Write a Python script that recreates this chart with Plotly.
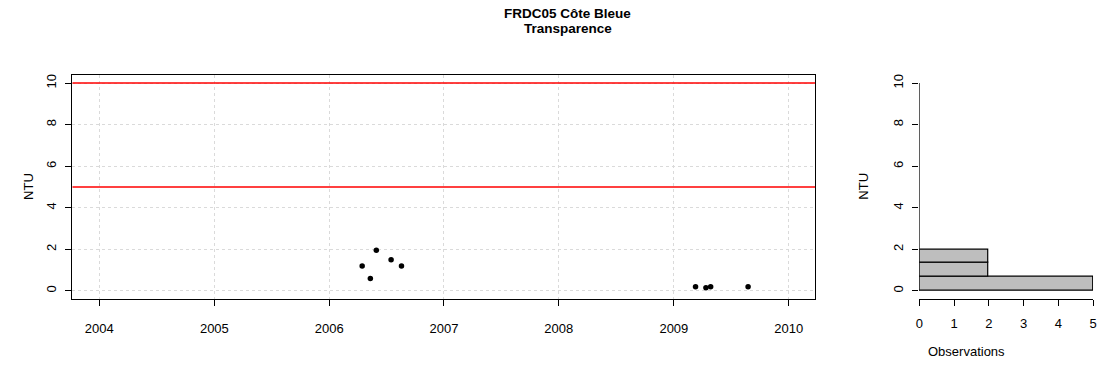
import numpy as np
import plotly.graph_objects as go

# measurement dates and turbidity values (NTU)
dates = ["2006-04-16", "2006-05-12", "2006-05-31", "2006-07-17", "2006-08-19",
         "2009-03-11", "2009-04-13", "2009-04-28", "2009-08-25"]
ntu = [1.2, 0.6, 1.95, 1.5, 1.2, 0.2, 0.15, 0.2, 0.2]

thresholds = [10, 5]
year_ticks = ["2004-01-01", "2005-01-01", "2006-01-01", "2007-01-01",
              "2008-01-01", "2009-01-01", "2010-01-01"]
year_labels = ["2004", "2005", "2006", "2007", "2008", "2009", "2010"]

bin_edges = [0, 2 / 3, 4 / 3, 2]
counts, _ = np.histogram(ntu, bins=bin_edges)
centers = [(bin_edges[i] + bin_edges[i + 1]) / 2 for i in range(len(counts))]
widths = [bin_edges[i + 1] - bin_edges[i] for i in range(len(counts))]

W, H = 1102, 369
FONT = "Liberation Sans, Arial, sans-serif"


def px_x(p):
    return p / W


def px_y(p):
    return 1 - p / H


fig = go.Figure()

fig.add_trace(go.Scatter(
    x=dates, y=ntu, mode="markers",
    marker=dict(color="black", size=5.5),
    xaxis="x", yaxis="y", showlegend=False
))

fig.add_trace(go.Bar(
    y=centers, x=counts, width=widths, orientation="h",
    marker=dict(color="#BEBEBE", line=dict(color="black", width=1.2)),
    xaxis="x2", yaxis="y2", showlegend=False
))

for t in thresholds:
    fig.add_shape(type="line", xref="x domain", yref="y", x0=0, x1=1, y0=t, y1=t,
                  line=dict(color="red", width=1.5))

# histogram y axis line spans only the tick range, like R
fig.add_shape(type="line", xref="x2", yref="y2", x0=0, x1=0, y0=0, y1=10,
              line=dict(color="black", width=1.2))

tick_font = dict(family=FONT, size=13, color="black")

fig.update_layout(
    width=W, height=H,
    margin=dict(l=0, r=0, t=0, b=0),
    paper_bgcolor="white", plot_bgcolor="white",
    font=dict(family=FONT, color="black"),
    bargap=0,
    xaxis=dict(
        domain=[px_x(69), px_x(817)],
        type="date",
        range=["2003-10-08", "2010-03-26"],
        tickvals=year_ticks, ticktext=year_labels,
        showline=True, linecolor="black", linewidth=1.2, mirror=True,
        ticks="outside", ticklen=6, tickcolor="black", tickwidth=1,
        showgrid=True, gridcolor="#DADADA", griddash="dot", gridwidth=1,
        zeroline=False, tickfont=tick_font, ticklabelstandoff=11,
    ),
    yaxis=dict(
        domain=[px_y(299), px_y(74)],
        range=[-0.4, 10.4],
        tickvals=[0, 2, 4, 6, 8, 10], tickangle=-90,
        showline=True, linecolor="black", linewidth=1.2, mirror=True,
        ticks="outside", ticklen=6, tickcolor="black", tickwidth=1,
        showgrid=True, gridcolor="#DADADA", griddash="dot", gridwidth=1,
        zeroline=False, tickfont=tick_font, ticklabelstandoff=4,
    ),
    xaxis2=dict(
        domain=[px_x(922), px_x(1097)],
        range=[0, 5], anchor="y2",
        tickvals=[0, 1, 2, 3, 4, 5],
        showline=True, linecolor="black", linewidth=1.2,
        ticks="outside", ticklen=6, tickcolor="black", tickwidth=1,
        showgrid=False, zeroline=False, tickfont=tick_font, ticklabelstandoff=6,
    ),
    yaxis2=dict(
        domain=[px_y(299), px_y(74)],
        range=[-0.4, 10.4], anchor="x2",
        tickvals=[0, 2, 4, 6, 8, 10], tickangle=-90,
        showline=False,
        ticks="outside", ticklen=6, tickcolor="black", tickwidth=1,
        showgrid=False, zeroline=False, tickfont=tick_font, ticklabelstandoff=4,
    ),
    annotations=[
        dict(text="<b>FRDC05 Côte Bleue</b>",
             x=px_x(568), y=px_y(13), xref="paper", yref="paper", yanchor="middle",
             showarrow=False, font=dict(family=FONT, size=13.5, color="black")),
        dict(text="<b>Transparence</b>",
             x=px_x(568), y=px_y(28), xref="paper", yref="paper", yanchor="middle",
             showarrow=False, font=dict(family=FONT, size=13.5, color="black")),
        dict(text="NTU", x=px_x(15), y=px_y(186), xref="paper", yref="paper",
             showarrow=False, textangle=-90, font=dict(family=FONT, size=13)),
        dict(text="NTU", x=px_x(875), y=px_y(186), xref="paper", yref="paper",
             showarrow=False, textangle=-90, font=dict(family=FONT, size=13)),
        dict(text="Observations", x=px_x(1010), y=px_y(351), xref="paper", yref="paper",
             yanchor="middle", showarrow=False, font=dict(family=FONT, size=13)),
    ],
)

# drop the default page margin so the figure fills the window exactly
fig.write_html(
    "out.html", config={"displayModeBar": False},
    post_script="document.body.style.margin='0';"
                "document.documentElement.style.overflow='hidden';",
)
